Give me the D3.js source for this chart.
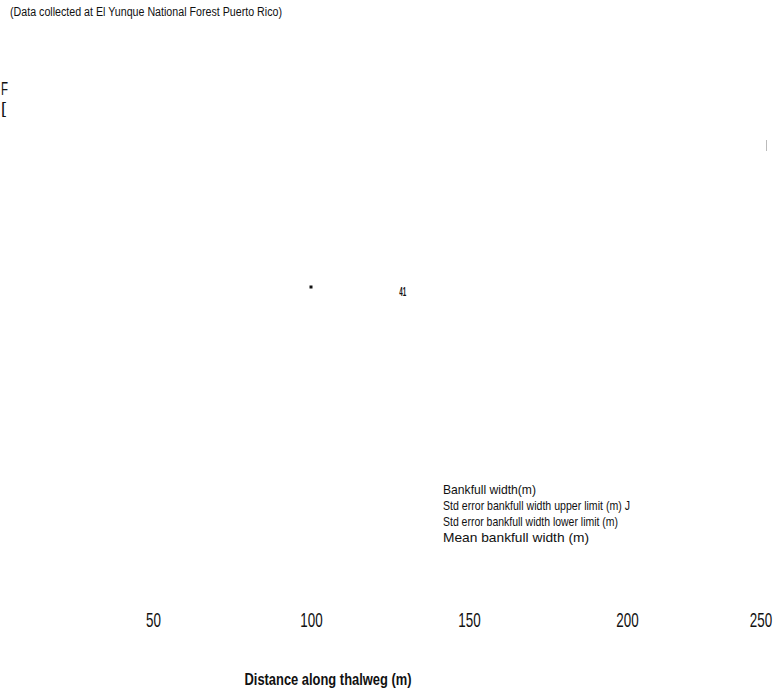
<!DOCTYPE html>
<html>
<head>
<meta charset="utf-8">
<script src="https://cdn.jsdelivr.net/npm/d3@7"></script>
<style>
  html, body { margin: 0; padding: 0; background: #fff; }
  svg { display: block; }
  text { font-family: "Liberation Sans", Arial, sans-serif; fill: #111; }
</style>
</head>
<body>
<svg id="chart" width="778" height="695"></svg>
<script>
// ---- data ----
const xTicks = [50, 100, 150, 200, 250];
const xTitle = "Distance along thalweg (m)";
const subtitle = "(Data collected at El Yunque National Forest Puerto Rico)";
const legendLabels = [
  "Bankfull width(m)",
  "Std error bankfull width upper limit (m) J",
  "Std error bankfull width lower limit (m)",
  "Mean bankfull width (m)"
];
// residual marks visible in the figure (distance m, width m)
const pointX = [100];
const pointY = [10.5];
const annotationX = [129];
const annotationY = [10.4];
const annotationText = ["41"];

// ---- layout ----
const W = 778, H = 695;
const svg = d3.select("#chart");

const x = d3.scaleLinear().domain([50, 250]).range([153, 785]);
const y = d3.scaleLinear().domain([0, 20]).range([560, 40]);

// subtitle
svg.append("text")
  .attr("x", 10).attr("y", 16)
  .attr("font-size", 12)
  .attr("textLength", 272).attr("lengthAdjust", "spacingAndGlyphs")
  .text(subtitle);

// residual y-axis label fragments on the left edge
svg.append("text").attr("x", 1).attr("y", 95)
  .attr("font-size", 18).attr("textLength", 7).attr("lengthAdjust", "spacingAndGlyphs").text("F");
svg.append("text").attr("x", 1).attr("y", 114)
  .attr("font-size", 16).attr("textLength", 5).attr("lengthAdjust", "spacingAndGlyphs").text("[");

// faint tick at the right edge
svg.append("line")
  .attr("x1", 766.5).attr("x2", 766.5).attr("y1", 140).attr("y2", 151)
  .attr("stroke", "#bbb").attr("stroke-width", 1);

// x axis (labels only)
const xAxis = d3.axisBottom(x).tickValues(xTicks).tickSize(0).tickPadding(0);
const gx = svg.append("g").attr("transform", "translate(0,613)").call(xAxis);
gx.select(".domain").remove();
gx.selectAll("text")
  .attr("font-size", 20)
  .style("font-family", '"Liberation Sans", Arial, sans-serif')
  .attr("fill", "#111")
  .attr("dy", "0.71em")
  .attr("transform", "scale(0.67,1)");
// keep last label within the window
gx.selectAll(".tick").filter(d => d === 250)
  .attr("transform", `translate(${W - 17},0)`);

// x axis title
svg.append("text")
  .attr("x", 328).attr("y", 685)
  .attr("text-anchor", "middle")
  .attr("font-size", 16).attr("font-weight", "bold")
  .attr("textLength", 167).attr("lengthAdjust", "spacingAndGlyphs")
  .text(xTitle);

// legend text
const legendWidths = [93, 187, 175, 146];
svg.append("g").selectAll("text")
  .data(legendLabels)
  .join("text")
  .attr("x", 443)
  .attr("y", (d, i) => 494 + i * 16)
  .attr("font-size", 13)
  .attr("textLength", (d, i) => legendWidths[i])
  .attr("lengthAdjust", "spacingAndGlyphs")
  .text(d => d);

// residual point
svg.append("g").selectAll("rect")
  .data(pointX.map((v, i) => [v, pointY[i]]))
  .join("rect")
  .attr("x", d => x(d[0]) - 1.5)
  .attr("y", d => y(d[1]) - 1.5)
  .attr("width", 3).attr("height", 3)
  .attr("fill", "#111");

// residual annotation
svg.append("g").selectAll("text")
  .data(annotationX.map((v, i) => [v, annotationY[i], annotationText[i]]))
  .join("text")
  .attr("x", d => x(d[0]))
  .attr("y", d => y(d[1]) + 6)
  .attr("text-anchor", "middle")
  .attr("font-size", 13).attr("font-weight", "bold")
  .attr("textLength", 7).attr("lengthAdjust", "spacingAndGlyphs")
  .text(d => d[2]);
</script>
</body>
</html>
